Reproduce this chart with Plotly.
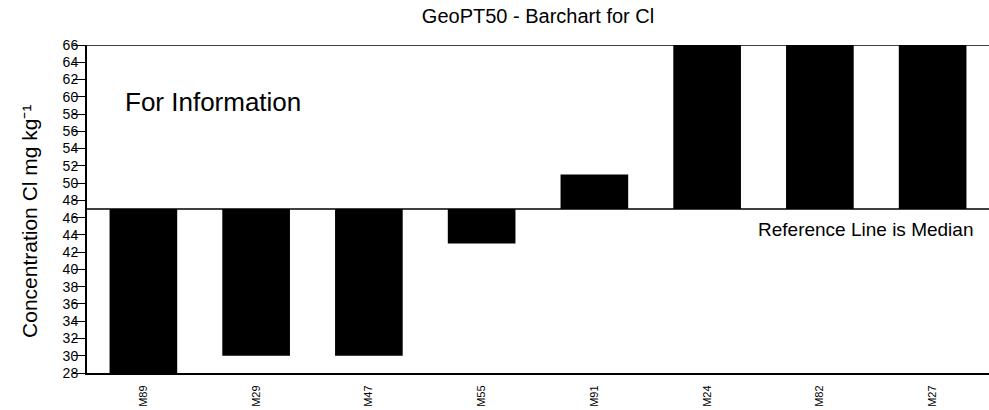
import plotly.graph_objects as go

# GeoPT50 chlorine results by lab, plotted against the median
labs = ["M89", "M29", "M47", "M55", "M91", "M24", "M82", "M27"]
values = [25, 30, 30, 43, 51, 70, 72, 75]
median = 47
y_ticks = list(range(28, 67, 2))

deltas = [v - median for v in values]

fig = go.Figure(
    go.Bar(
        x=labs,
        y=deltas,
        base=median,
        marker=dict(color="black", line=dict(width=0)),
        width=0.6,
    )
)

fig.update_layout(
    width=989,
    height=410,
    margin=dict(l=87, r=0, t=45, b=37),
    paper_bgcolor="white",
    plot_bgcolor="white",
    showlegend=False,
    font=dict(family="Liberation Sans, Arial, sans-serif", color="black"),
    title=dict(
        text="GeoPT50 - Barchart for Cl",
        x=0.544, xanchor="center",
        y=0.962, yanchor="middle",
        font=dict(size=20),
    ),
    xaxis=dict(
        range=[-0.5, 7.5],
        showgrid=False,
        zeroline=False,
        showline=True,
        linecolor="black",
        linewidth=2,
        ticks="",
        tickangle=-90,
        tickfont=dict(size=11),
        ticklabelstandoff=6,
    ),
    yaxis=dict(
        range=[28, 66],
        tickvals=y_ticks,
        showgrid=False,
        zeroline=False,
        showline=True,
        linecolor="black",
        linewidth=2,
        ticks="outside",
        ticklen=12,
        tickwidth=1,
        tickcolor="black",
        tickfont=dict(size=14),
        ticklabelstandoff=-8,
    ),
    shapes=[
        # top frame line
        dict(type="line", xref="paper", yref="y", x0=0, x1=1, y0=66, y1=66,
             line=dict(color="black", width=1.5)),
        # median reference line
        dict(type="line", xref="paper", yref="y", x0=0, x1=1, y0=median, y1=median,
             line=dict(color="black", width=1.5)),
    ],
    annotations=[
        dict(text="Concentration Cl mg kg⁻¹", xref="paper", yref="paper",
             x=-0.0645, y=0.463, textangle=-90, showarrow=False,
             xanchor="center", yanchor="middle", font=dict(size=21)),
        dict(text="For Information", xref="paper", yref="paper",
             x=0.040, y=0.826, showarrow=False, xanchor="left", yanchor="middle",
             font=dict(size=26)),
        dict(text="Reference Line is Median", xref="paper", yref="paper",
             x=0.984, y=0.436, showarrow=False, xanchor="right", yanchor="middle",
             font=dict(size=19)),
    ],
)

fig.write_html("out.html")
